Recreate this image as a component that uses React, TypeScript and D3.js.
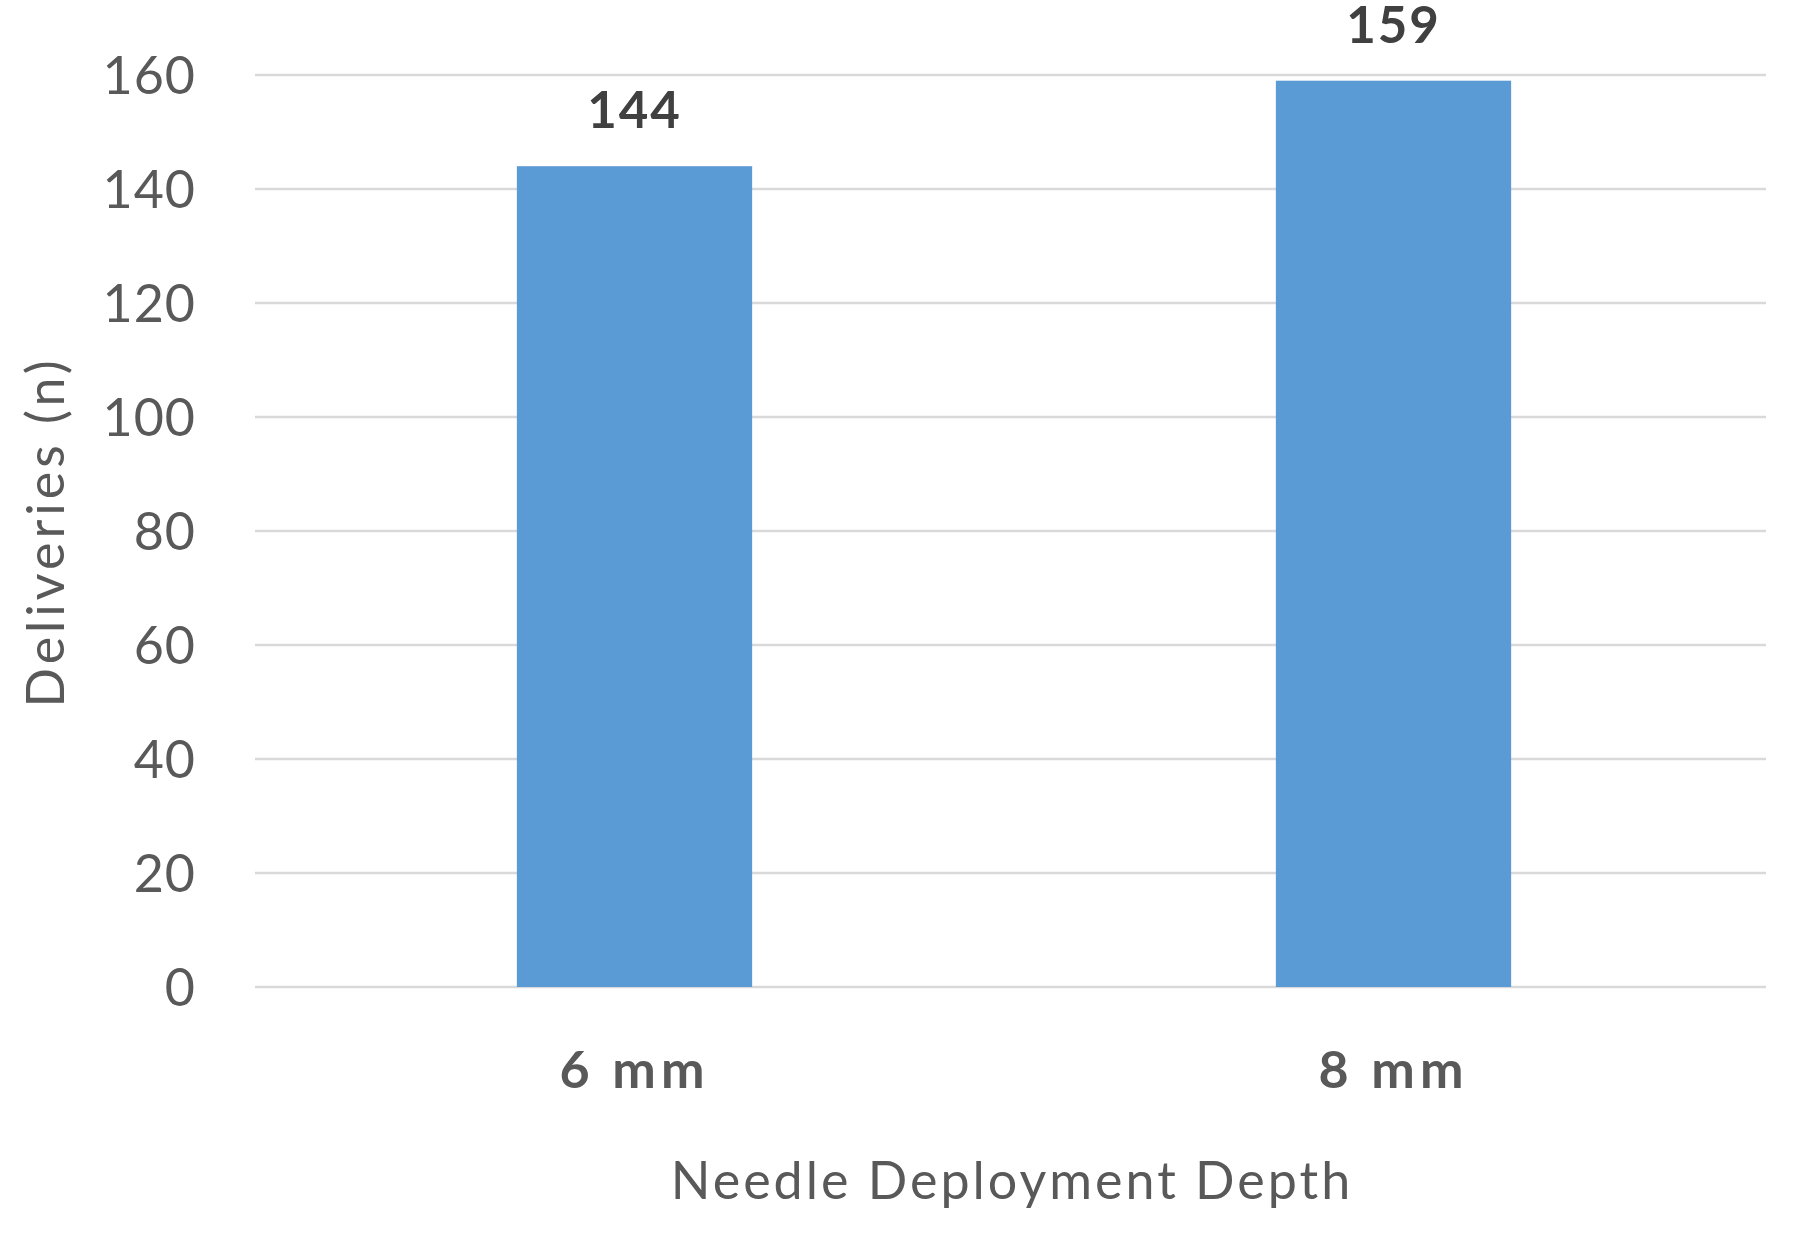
import * as d3 from "d3";
import React, { useEffect, useRef } from "react";

const categories = ["6 mm", "8 mm"];
const deliveries = [144, 159];
const yTicks = [0, 20, 40, 60, 80, 100, 120, 140, 160];

export default function App() {
  const svgRef = useRef<SVGSVGElement | null>(null);
  const width = 1800;
  const height = 1233;
  const margin = { top: 75, right: 34, bottom: 246, left: 255 };

  useEffect(() => {
    const svgEl = d3.select(svgRef.current);
    svgEl.selectAll("*").remove();
    const font = "Lato, 'Open Sans', sans-serif";

    // category bands run slightly past the last gridline, like Excel's layout
    const x_scale = d3
      .scaleBand()
      .domain(categories)
      .range([margin.left, width - 27])
      .padding(0);

    const y_scale = d3
      .scaleLinear()
      .domain([0, 160])
      .range([height - margin.bottom, margin.top]);

    const barW = x_scale.bandwidth() * 0.31;

    // gridlines
    svgEl
      .append("g")
      .selectAll("line")
      .data(yTicks)
      .enter()
      .append("line")
      .attr("x1", margin.left)
      .attr("x2", width - margin.right)
      .attr("y1", (d) => y_scale(d))
      .attr("y2", (d) => y_scale(d))
      .attr("stroke", "#d9d9d9")
      .attr("stroke-width", 2.5);

    // y tick labels
    svgEl
      .append("g")
      .selectAll("text")
      .data(yTicks)
      .enter()
      .append("text")
      .attr("x", 196)
      .attr("y", (d) => y_scale(d))
      .attr("dy", "0.36em")
      .attr("text-anchor", "end")
      .attr("font-family", font)
      .attr("font-size", 52)
      .attr("letter-spacing", 1)
      .attr("fill", "#595959")
      .text((d) => d);

    // bars
    svgEl
      .selectAll("rect.bar")
      .data(deliveries)
      .enter()
      .append("rect")
      .attr("class", "bar")
      .attr("x", (d, i) => (x_scale(categories[i]) as number) + x_scale.bandwidth() / 2 - barW / 2)
      .attr("y", (d) => y_scale(d))
      .attr("width", barW)
      .attr("height", (d) => y_scale(0) - y_scale(d))
      .attr("fill", "#5b9bd5");

    // data labels
    svgEl
      .selectAll("text.lbl")
      .data(deliveries)
      .enter()
      .append("text")
      .attr("class", "lbl")
      .attr("x", (d, i) => (x_scale(categories[i]) as number) + x_scale.bandwidth() / 2)
      .attr("y", (d) => y_scale(d) - 38)
      .attr("text-anchor", "middle")
      .attr("font-family", font)
      .attr("font-weight", "bold")
      .attr("font-size", 51)
      .attr("letter-spacing", 2)
      .attr("fill", "#404040")
      .text((d) => d);

    // x category labels
    svgEl
      .selectAll("text.cat")
      .data(categories)
      .enter()
      .append("text")
      .attr("class", "cat")
      .attr("x", (d) => (x_scale(d) as number) + x_scale.bandwidth() / 2)
      .attr("y", 1088)
      .attr("text-anchor", "middle")
      .attr("font-family", font)
      .attr("font-weight", "bold")
      .attr("font-size", 52)
      .attr("letter-spacing", 5)
      .attr("fill", "#595959")
      .text((d) => d);

    // axis titles
    svgEl
      .append("text")
      .attr("x", 1012)
      .attr("y", 1199)
      .attr("text-anchor", "middle")
      .attr("font-family", font)
      .attr("font-size", 52)
      .attr("letter-spacing", 3)
      .attr("fill", "#595959")
      .text("Needle Deployment Depth");

    svgEl
      .append("text")
      .attr("transform", "translate(64,532)rotate(-90)")
      .attr("text-anchor", "middle")
      .attr("font-family", font)
      .attr("font-size", 52)
      .attr("letter-spacing", 4)
      .attr("fill", "#595959")
      .text("Deliveries (n)");
  });

  return (
    <svg
      ref={svgRef}
      width={width}
      height={height}
      style={{ position: "absolute", left: 0, top: 0, background: "#fff" }}
    ></svg>
  );
}
